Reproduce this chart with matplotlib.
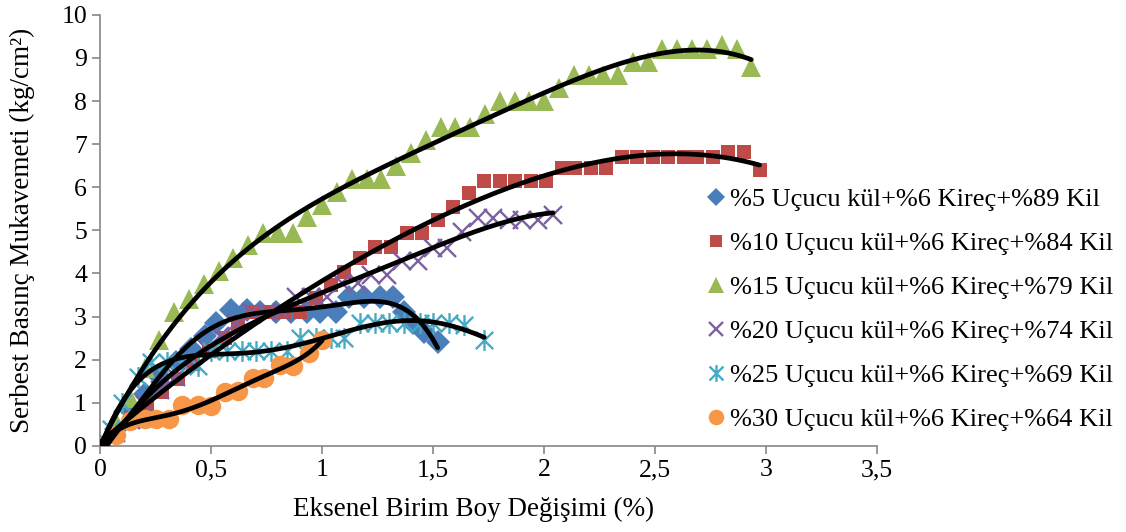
import numpy as np
import matplotlib
matplotlib.use("Agg")
import matplotlib.pyplot as plt
from matplotlib.path import Path

plt.rcParams['font.family'] = ['Liberation Serif', 'DejaVu Serif']

# data (strain %, strength kg/cm2)
x5 = [0, 0.07, 0.14, 0.2, 0.27, 0.34, 0.41, 0.47, 0.52, 0.59, 0.66, 0.72, 0.79, 0.86,
      0.93, 0.99, 1.06, 1.12, 1.19, 1.26, 1.32, 1.37, 1.41, 1.46, 1.52]
y5 = [0, 0.4, 0.8, 1.2, 1.6, 1.95, 2.25, 2.55, 2.85, 3.15, 3.15, 3.1, 3.1, 3.1,
      3.1, 3.1, 3.1, 3.45, 3.45, 3.45, 3.45, 3.1, 2.85, 2.65, 2.4]

x10 = [0, 0.07, 0.14, 0.21, 0.28, 0.35, 0.42, 0.49, 0.56, 0.62, 0.69, 0.76, 0.83, 0.9,
       0.97, 1.04, 1.1, 1.17, 1.24, 1.31, 1.38, 1.45, 1.52, 1.59, 1.66, 1.73, 1.8, 1.87,
       1.94, 2.01, 2.08, 2.14, 2.21, 2.28, 2.35, 2.42, 2.49, 2.56, 2.63, 2.69, 2.76, 2.83,
       2.9, 2.97]
y10 = [0, 0.35, 0.65, 0.95, 1.25, 1.55, 1.9, 2.2, 2.5, 2.8, 3.1, 3.1, 3.1, 3.1,
       3.43, 3.73, 4.04, 4.36, 4.62, 4.62, 4.94, 4.94, 5.24, 5.55, 5.87, 6.15, 6.15, 6.15,
       6.15, 6.15, 6.45, 6.45, 6.45, 6.45, 6.7, 6.7, 6.7, 6.7, 6.7, 6.7, 6.7, 6.82,
       6.82, 6.4]

x15 = [0, 0.067, 0.133, 0.2, 0.267, 0.333, 0.4, 0.467, 0.533, 0.6, 0.667, 0.733, 0.8,
       0.867, 0.933, 1.0, 1.067, 1.133, 1.2, 1.267, 1.333, 1.4, 1.467, 1.533, 1.6, 1.667,
       1.733, 1.8, 1.867, 1.933, 2.0, 2.067, 2.133, 2.2, 2.267, 2.333, 2.4, 2.467, 2.533,
       2.6, 2.667, 2.733, 2.8, 2.867, 2.933]
y15 = [0, 0.6, 1.1, 1.8, 2.45, 3.1, 3.4, 3.75, 4.05, 4.35, 4.65, 4.95, 4.95,
       4.95, 5.3, 5.6, 5.9, 6.2, 6.2, 6.2, 6.5, 6.8, 7.1, 7.4, 7.4, 7.4,
       7.7, 8.0, 8.0, 8.0, 8.0, 8.3, 8.6, 8.6, 8.6, 8.6, 8.9, 8.9, 9.2,
       9.2, 9.2, 9.2, 9.3, 9.2, 8.8]

x20 = [0, 0.07, 0.14, 0.2, 0.27, 0.34, 0.41, 0.48, 0.54, 0.61, 0.68, 0.75, 0.82, 0.88,
       0.95, 1.02, 1.09, 1.16, 1.22, 1.29, 1.36, 1.43, 1.5, 1.56, 1.63, 1.7, 1.77, 1.84,
       1.9, 1.97, 2.04]
y20 = [0, 0.3, 0.6, 0.95, 1.3, 1.6, 1.95, 2.25, 2.55, 2.85, 3.1, 3.1, 3.1, 3.45,
       3.45, 3.45, 3.78, 3.78, 3.97, 3.97, 4.3, 4.3, 4.6, 4.6, 4.97, 5.28, 5.28, 5.25,
       5.25, 5.25, 5.36]

x25 = [0, 0.05, 0.1, 0.17, 0.23, 0.3, 0.37, 0.44, 0.5, 0.57, 0.64, 0.7, 0.77, 0.84,
       0.9, 0.97, 1.04, 1.1, 1.17, 1.24, 1.3, 1.37, 1.44, 1.5, 1.57, 1.64, 1.73]
y25 = [0, 0.4, 1.0, 1.6, 1.95, 1.95, 1.9, 1.85, 2.2, 2.2, 2.2, 2.2, 2.2, 2.2,
       2.5, 2.5, 2.5, 2.5, 2.85, 2.85, 2.85, 2.85, 2.85, 2.85, 2.85, 2.8, 2.45]

x30 = [0, 0.07, 0.135, 0.2, 0.25, 0.31, 0.37, 0.44, 0.5, 0.56, 0.62, 0.69, 0.74, 0.81,
       0.87, 0.94, 1.0]
y30 = [0, 0.25, 0.58, 0.62, 0.62, 0.62, 0.95, 0.95, 0.92, 1.25, 1.28, 1.58, 1.58, 1.88,
       1.85, 2.16, 2.46]

labels = ["%5 Uçucu kül+%6 Kireç+%89 Kil", "%10 Uçucu kül+%6 Kireç+%84 Kil",
          "%15 Uçucu kül+%6 Kireç+%79 Kil", "%20 Uçucu kül+%6 Kireç+%74 Kil",
          "%25 Uçucu kül+%6 Kireç+%69 Kil", "%30 Uçucu kül+%6 Kireç+%64 Kil"]

# excel style star marker (x with a vertical bar)
star = Path([(-1, -1), (1, 1), (-1, 1), (1, -1), (0, -1.2), (0, 1.2)],
            [Path.MOVETO, Path.LINETO, Path.MOVETO, Path.LINETO, Path.MOVETO, Path.LINETO])

series = [
    (x5, y5, "D", "#4A7EBB", 12, 6),
    (x10, y10, "s", "#BE4B48", 10.5, 4),
    (x15, y15, "^", "#98B954", 14, 4),
    (x20, y20, "x", "#7D60A0", 12.5, 4),
    (x25, y25, star, "#46AAC5", 15, 5),
    (x30, y30, "o", "#F79646", 14, 5),
]

fig = plt.figure(figsize=(11.26, 5.32), dpi=100)
ax = fig.add_axes([0.089, 0.162, 0.690, 0.810])

for (xs, ys, m, c, ms, deg), lab in zip(series, labels):
    if m == "x" or m is star:
        ax.plot(xs, ys, linestyle="none", marker=m, markersize=ms, markeredgecolor=c,
                markerfacecolor="none", markeredgewidth=1.7, label=lab, zorder=2)
    else:
        ax.plot(xs, ys, linestyle="none", marker=m, markersize=ms, color=c,
                markeredgewidth=0, label=lab, zorder=2)

# polynomial trend lines
for xs, ys, m, c, ms, deg in series:
    p = np.polyfit(xs, ys, deg)
    xx = np.linspace(min(xs), max(xs), 200)
    ax.plot(xx, np.polyval(p, xx), color="black", linewidth=3.4,
            solid_capstyle="round", zorder=3)

ax.set_xlim(0, 3.5)
ax.set_ylim(0, 10)
ax.set_xticks(np.arange(0, 3.51, 0.5))
ax.set_xticklabels(["0", "0,5", "1", "1,5", "2", "2,5", "3", "3,5"])
ax.set_yticks(range(0, 11))
for s in ["top", "right"]:
    ax.spines[s].set_visible(False)
for s in ["left", "bottom"]:
    ax.spines[s].set_color("#868686")
    ax.spines[s].set_linewidth(1.2)
ax.tick_params(axis="both", colors="#868686", labelcolor="black", labelsize=18.5,
               length=6, width=1.2, direction="out")
ax.set_xlabel("Eksenel Birim Boy Değişimi (%)", fontsize=19.5)
ax.xaxis.set_label_coords(0.481, -0.118)
ax.set_ylabel("Serbest Basınç Mukavemeti (kg/cm²)", fontsize=19.5, labelpad=19)

fig.legend(loc="center left", bbox_to_anchor=(0.618, 0.418), frameon=False,
           fontsize=19, handlelength=0.7, handletextpad=0.2, labelspacing=0.78,
           borderaxespad=0, markerscale=0.8)

fig.savefig("out.png", dpi=100)
